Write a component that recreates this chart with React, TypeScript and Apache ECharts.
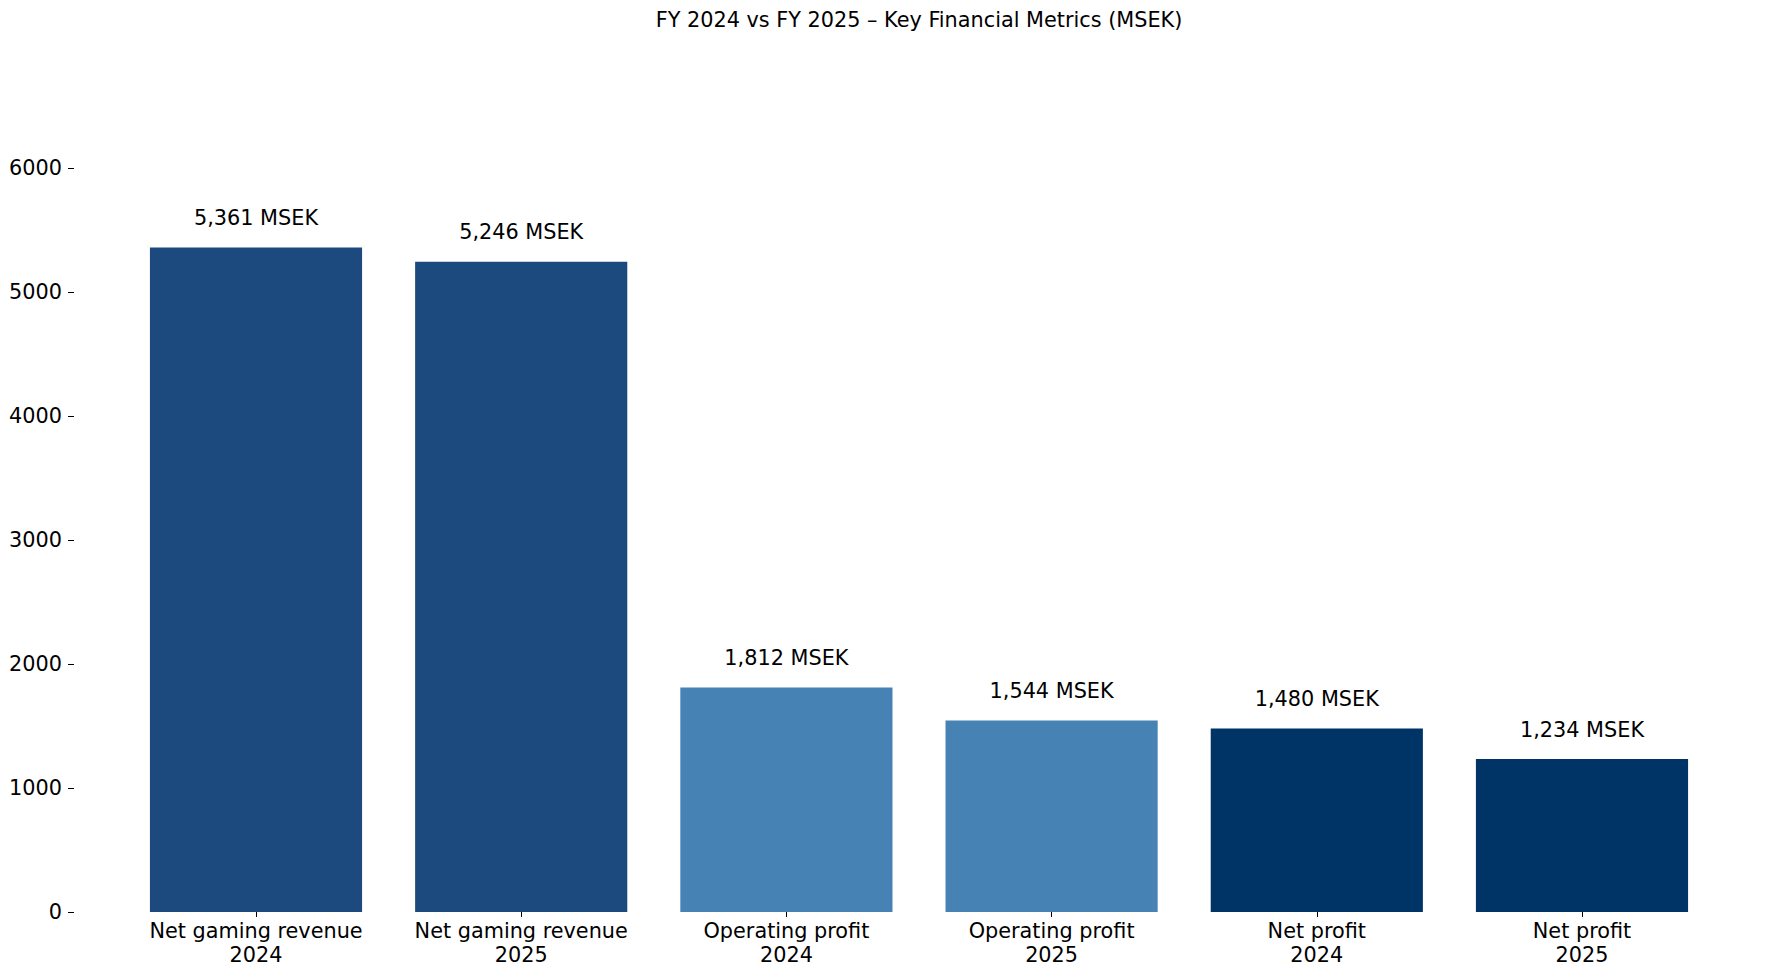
import React, { useEffect, useRef } from "react";
import * as echarts from "echarts";

const metrics = [
  "Net gaming revenue",
  "Net gaming revenue",
  "Operating profit",
  "Operating profit",
  "Net profit",
  "Net profit",
];
const years = ["2024", "2025", "2024", "2025", "2024", "2025"];
const values = [5361, 5246, 1812, 1544, 1480, 1234];
const barColors = ["#1c4a7e", "#1c4a7e", "#4682b4", "#4682b4", "#003366", "#003366"];
const yTicks = { min: 0, max: 6000, interval: 1000 };
const titleText = "FY 2024 vs FY 2025 \u2013 Key Financial Metrics (MSEK)";

const FONT = "'DejaVu Sans', sans-serif";
const FS = 20.8;

export default function App() {
  const ref = useRef<HTMLDivElement>(null);
  useEffect(() => {
    if (!ref.current) return;
    const chart = echarts.init(ref.current, undefined, { renderer: "svg" });
    const categories = metrics.map((m, i) => `${m}\n${years[i]}`);
    chart.setOption({
      animation: false,
      backgroundColor: "#ffffff",
      textStyle: { fontFamily: FONT },
      title: {
        text: titleText,
        left: 914,
        top: 4,
        textAlign: "center",
        textStyle: { fontFamily: FONT, fontSize: FS, fontWeight: "normal", color: "#000" },
      },
      grid: { left: 123.4, right: 60.4, top: 168.3, bottom: 63 },
      xAxis: {
        type: "category",
        data: categories,
        axisLine: { show: false },
        axisTick: { show: true, alignWithLabel: true, length: 5, lineStyle: { color: "#000", width: 1 } },
        axisLabel: {
          color: "#000",
          fontFamily: FONT,
          fontSize: FS,
          lineHeight: 24,
          margin: 7,
          interval: 0,
        },
      },
      yAxis: {
        type: "value",
        min: yTicks.min,
        max: yTicks.max,
        interval: yTicks.interval,
        offset: 49.4,
        splitLine: { show: false },
        axisLine: { show: false },
        axisTick: { show: true, length: 6, lineStyle: { color: "#000", width: 1 } },
        axisLabel: {
          color: "#000",
          fontFamily: FONT,
          fontSize: FS,
          margin: 12,
          formatter: (v: number) => String(v),
        },
      },
      series: [
        {
          type: "bar",
          barCategoryGap: "20%",
          data: values.map((v, i) => ({ value: v, itemStyle: { color: barColors[i] } })),
          label: {
            show: true,
            position: "top",
            distance: 19,
            color: "#000",
            fontFamily: FONT,
            fontSize: FS,
            formatter: (p: any) => `${Number(p.value).toLocaleString("en-US")} MSEK`,
          },
        },
      ],
    });
    return () => chart.dispose();
  }, []);
  return (
    <div
      ref={ref}
      style={{ position: "absolute", left: 0, top: 0, width: 1775, height: 975 }}
    />
  );
}
